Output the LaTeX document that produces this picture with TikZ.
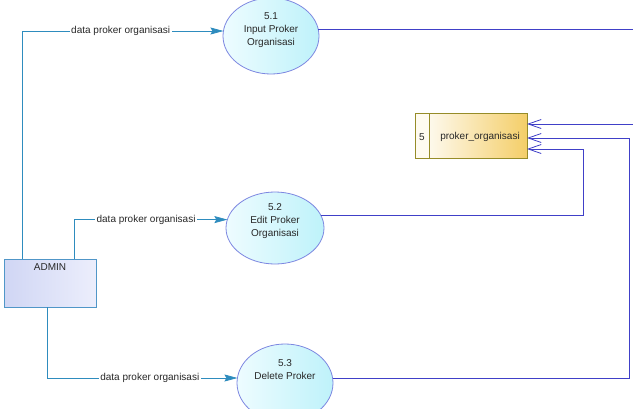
\documentclass[tikz,border=0pt]{standalone}
\usepackage{fontspec}
\setmainfont{Liberation Sans}
\usetikzlibrary{shapes.geometric,arrows.meta}
\definecolor{flowc}{RGB}{46,140,190}
\definecolor{dsline}{RGB}{64,64,200}
\definecolor{procborder}{RGB}{125,135,225}
\definecolor{procl}{RGB}{238,252,255}
\definecolor{procr}{RGB}{190,242,250}
\definecolor{admborder}{RGB}{80,150,200}
\definecolor{adml}{RGB}{208,214,244}
\definecolor{admr}{RGB}{236,238,252}
\definecolor{dsborder}{RGB}{150,140,40}
\definecolor{dsr}{RGB}{244,206,104}
\definecolor{dscell}{RGB}{255,251,240}
\definecolor{txt}{RGB}{40,40,40}
\begin{document}
\begin{tikzpicture}[x=1pt,y=-1pt,
  font=\fontsize{10}{13}\selectfont,
  proc/.style={ellipse, draw=procborder, line width=0.8pt, left color=procl, right color=procr, inner sep=0pt, outer sep=0pt},
  ptext/.style={align=center, inner sep=0pt, text=txt},
  entity/.style={rectangle, draw=admborder, line width=0.8pt, left color=adml, right color=admr, minimum width=92pt, minimum height=48pt, inner sep=0pt, outer sep=0pt},
  store/.style={rectangle, draw=dsborder, line width=0.8pt, left color=white, right color=dsr, minimum width=112pt, minimum height=45pt, inner sep=0pt, outer sep=0pt},
  flow/.style={draw=flowc, line width=0.7pt, -{Stealth[length=13pt,width=7pt,inset=2pt]}},
  flowlabel/.style={fill=white, inner sep=1.5pt, text=txt},
  dsflow/.style={draw=dsline, line width=0.8pt, -{Straight Barb[length=13pt,width=9pt]}},
]
\useasboundingbox (0,0) rectangle (633,408);
\clip (0,0) rectangle (633,408);
\fill[white] (0,0) rectangle (633,408);

% processes
\node[proc, minimum width=96pt, minimum height=76pt] (p1) at (271,36) {};
\node[ptext] (p1t) at (271,30) {5.1\\Input Proker\\Organisasi};
\node[proc, minimum width=98pt, minimum height=72pt] (p2) at (275,228) {};
\node[ptext] (p2t) at (275,221) {5.2\\Edit Proker\\Organisasi};
\node[proc, minimum width=96pt, minimum height=78pt] (p3) at (285,383) {};
\node[ptext] (p3t) at (285,370) {5.3\\Delete Proker};

% external entity
\node[entity] (admin) at (50,283) {};
\node[ptext] (admint) at (50,267) {ADMIN};

% data store
\node[store] (ds) at (471,135.5) {};
\draw[dsborder, line width=0.8pt, fill=dscell] (ds.north west) rectangle ([xshift=14pt]ds.south west);
\node[ptext] (dsn) at (422,137) {5};
\node[ptext] (dst) at (480,137) {proker\_organisasi};

% flows from admin
\draw[flow] ([xshift=18pt]admin.north west) |- (p1.174)
  node[flowlabel, pos=0.745] (l1) {data proker organisasi};
\draw[flow] ([xshift=70pt]admin.north west) |- (p2.170)
  node[flowlabel, pos=0.735] (l2) {data proker organisasi};
\draw[flow] ([xshift=43pt]admin.south west) |- (p3.174)
  node[flowlabel, pos=0.77] (l3) {data proker organisasi};

% flows to data store
\coordinate (b1) at (650,124);
\coordinate (b2) at (583,149);
\coordinate (b3) at (629,138);
\draw[dsflow] (p1.8) -| (b1) -- ([yshift=11.5pt]ds.east);
\draw[dsflow] (p2.16) -| (b2) -- ([yshift=-13.5pt]ds.east);
\draw[dsflow] (p3.6) -| (b3) -- ([yshift=-2.5pt]ds.east);
\end{tikzpicture}
\end{document}
